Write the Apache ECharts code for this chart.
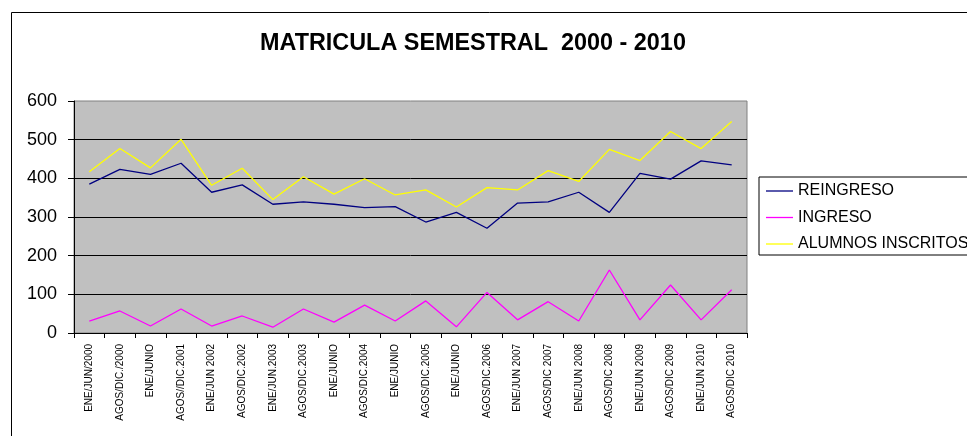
<!DOCTYPE html>
<html>
<head>
<meta charset="utf-8">
<script src="https://cdn.jsdelivr.net/npm/echarts@6/dist/echarts.min.js"></script>
<style>html,body{margin:0;padding:0;background:#fff}#c{width:967px;height:436px}</style>
</head>
<body>
<div id="c"></div>
<script>
var categories = ['ENE/JUN/2000','AGOS/DIC./2000','ENE/JUNIO','AGOS//DIC.2001','ENE/JUN 2002','AGOS/DIC.2002','ENE/JUN.2003','AGOS/DIC.2003','ENE/JUNIO','AGOS/DIC.2004','ENE/JUNIO','AGOS/DIC.2005','ENE/JUNIO','AGOS/DIC.2006','ENE/JUN 2007','AGOS/DIC 2007','ENE/JUN 2008','AGOS/DIC 2008','ENE/JUN 2009','AGOS/DIC 2009','ENE/JUN 2010','AGOS/DIC 2010'];
var reingreso = [385,423,410,439,364,383,333,339,333,324,327,287,312,271,336,339,364,312,413,398,445,435];
var ingreso = [31,57,18,62,18,44,15,62,28,72,31,83,16,105,34,81,31,163,34,124,34,112];
var inscritos = [417,477,427,501,382,426,345,404,359,399,357,370,326,376,370,420,392,475,446,521,477,547];
var yTicks = [0,100,200,300,400,500,600];

var FONT = 'Liberation Sans, Arial, sans-serif';
var chart = echarts.init(document.getElementById('c'), null, {renderer:'canvas'});
chart.setOption({
  animation: false,
  backgroundColor: '#ffffff',
  textStyle: {fontFamily: FONT},
  title: {
    text: 'MATRICULA SEMESTRAL  2000 - 2010',
    left: 255, top: 27,
    textStyle: {fontFamily: FONT, fontSize: 23.4, fontWeight: 'bold', color: '#000'}
  },
  graphic: [{
    type: 'rect', shape: {x: 11.5, y: 12.5, width: 1000, height: 500},
    style: {fill: 'none', stroke: '#000', lineWidth: 1}, silent: true, z: 100
  }],
  legend: {
    left: 759, top: 177, orient: 'vertical',
    padding: [6, 10, 3, 7],
    icon: 'rect',
    itemWidth: 27, itemHeight: 1.3, itemGap: 10.5,
    borderColor: '#000', borderWidth: 1, backgroundColor: '#fff',
    textStyle: {fontFamily: FONT, fontSize: 16, color: '#000', lineHeight: 16, padding: [0,0,0,0]},
    data: ['REINGRESO','INGRESO','ALUMNOS INSCRITOS']
  },
  grid: {
    left: 74, right: 220, top: 101, bottom: 103,
    show: true, backgroundColor: '#C0C0C0', borderColor: '#808080', borderWidth: 1
  },
  xAxis: {
    type: 'category', data: categories, boundaryGap: true,
    axisLine: {lineStyle: {color: '#000', width: 1}},
    axisTick: {show: true, length: 5, lineStyle: {color: '#000'}, interval: 0},
    axisLabel: {interval: 0, rotate: 90, fontSize: 10, color: '#000', margin: 11, fontFamily: FONT}
  },
  yAxis: {
    type: 'value', min: 0, max: 600, interval: 100,
    axisLine: {show: true, lineStyle: {color: '#000', width: 1}},
    axisTick: {show: true, length: 6, lineStyle: {color: '#000'}},
    axisLabel: {fontSize: 18, color: '#000', margin: 17, fontFamily: FONT,
      formatter: function(v){ return yTicks.indexOf(v) >= 0 ? String(v) : ''; }},
    splitLine: {show: true, showMinLine: false, showMaxLine: false, lineStyle: {color: '#000', width: 1}}
  },
  series: [
    {name: 'REINGRESO', type: 'line', data: reingreso, symbol: 'none', lineStyle: {color: '#000080', width: 1.3}, itemStyle: {color: '#000080'}},
    {name: 'INGRESO', type: 'line', data: ingreso, symbol: 'none', lineStyle: {color: '#FF00FF', width: 1.3}, itemStyle: {color: '#FF00FF'}},
    {name: 'ALUMNOS INSCRITOS', type: 'line', data: inscritos, symbol: 'none', lineStyle: {color: '#FFFF00', width: 1.3}, itemStyle: {color: '#FFFF00'}}
  ]
});
</script>
</body>
</html>
